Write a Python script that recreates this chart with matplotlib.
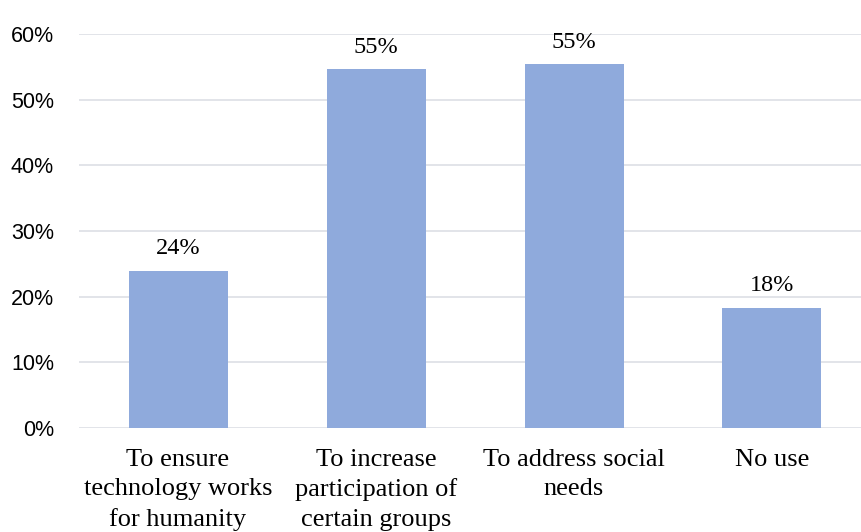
import matplotlib
matplotlib.use("Agg")
import matplotlib.pyplot as plt
from matplotlib.ticker import FuncFormatter

categories = ["To ensure\ntechnology works\nfor humanity",
              "To increase\nparticipation of\ncertain groups",
              "To address social\nneeds",
              "No use"]
values = [23.9, 54.6, 55.4, 18.3]
labels = ["24%", "55%", "55%", "18%"]
yticks = [0, 10, 20, 30, 40, 50, 60]

fig = plt.figure(figsize=(8.61, 5.32), dpi=100)
W, H = 861, 532
left, right, bottom, top = 79, 871, 428, 34
ax = fig.add_axes([left / W, 1 - bottom / H, (right - left) / W, (bottom - top) / H])

x = range(len(categories))
ax.bar(x, values, width=0.5, color="#8FAADC", zorder=3)
ax.set_xlim(-0.5, len(categories) - 0.5)
ax.set_ylim(0, 60)
ax.set_yticks(yticks)
ax.yaxis.set_major_formatter(FuncFormatter(lambda v, p: f"{int(v)}%"))
ax.grid(axis="y", color="#DFE2E7", linewidth=1.3, zorder=0)
ax.set_axisbelow(True)
for s in ax.spines.values():
    s.set_visible(False)
ax.tick_params(axis="both", length=0)
ax.tick_params(axis="y", pad=18)
for lab in ax.get_yticklabels():
    lab.set_fontfamily("Liberation Sans")
    lab.set_fontsize(15.5)
ax.set_xticks(list(x))
ax.set_xticklabels(categories, fontfamily="Liberation Serif", fontsize=19, linespacing=1.42)
ax.tick_params(axis="x", pad=15)

for xi, v, t in zip(x, values, labels):
    ax.annotate(t, (xi, v), xytext=(0, 12), textcoords="offset points",
                ha="center", va="baseline", fontfamily="Liberation Serif", fontsize=17.5)

fig.savefig("out.png", dpi=100)
